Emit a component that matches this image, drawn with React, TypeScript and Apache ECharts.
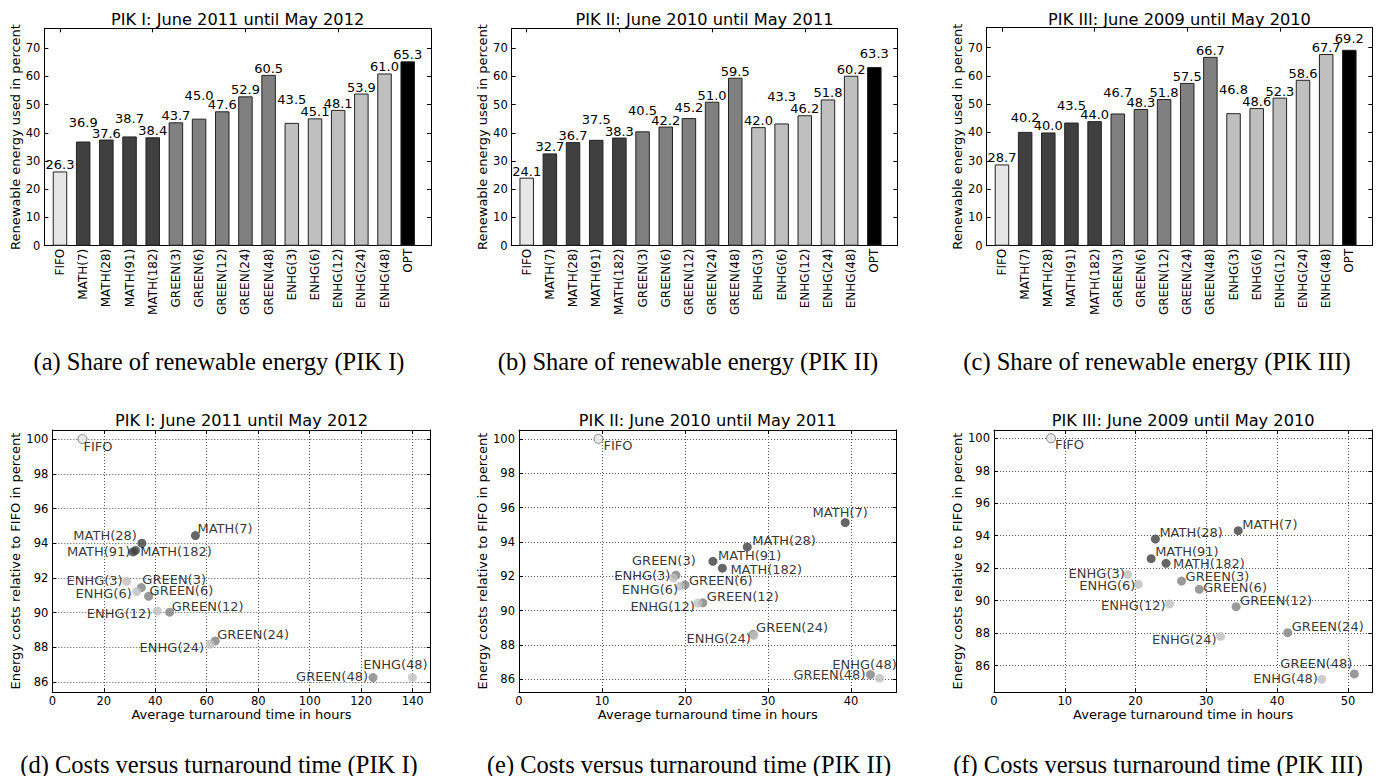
import React, { useEffect, useRef } from 'react';
import * as echarts from 'echarts';

// ---------- data ----------
const categories = ['FIFO', 'MATH(7)', 'MATH(28)', 'MATH(91)', 'MATH(182)', 'GREEN(3)', 'GREEN(6)', 'GREEN(12)', 'GREEN(24)', 'GREEN(48)', 'ENHG(3)', 'ENHG(6)', 'ENHG(12)', 'ENHG(24)', 'ENHG(48)', 'OPT'];

const shareA = [26.3, 36.9, 37.6, 38.7, 38.4, 43.7, 45.0, 47.6, 52.9, 60.5, 43.5, 45.1, 48.1, 53.9, 61.0, 65.3];
const shareB = [24.1, 32.7, 36.7, 37.5, 38.3, 40.5, 42.2, 45.2, 51.0, 59.5, 42.0, 43.3, 46.2, 51.8, 60.2, 63.3];
const shareC = [28.7, 40.2, 40.0, 43.5, 44.0, 46.7, 48.3, 51.8, 57.5, 66.7, 46.8, 48.6, 52.3, 58.6, 67.7, 69.2];

const scatterNames = ['FIFO', 'MATH(7)', 'MATH(28)', 'MATH(91)', 'MATH(182)', 'GREEN(3)', 'GREEN(6)', 'GREEN(12)', 'GREEN(24)', 'GREEN(48)', 'ENHG(3)', 'ENHG(6)', 'ENHG(12)', 'ENHG(24)', 'ENHG(48)'];

const turnaroundD = [11.7, 55.6, 34.8, 32.3, 31.4, 34.6, 37.4, 45.6, 63.3, 124.6, 28.9, 32.8, 40.8, 61.3, 139.9];
const costsD = [100.0, 94.44, 94.0, 93.59, 93.5, 91.45, 90.95, 90.03, 88.38, 86.27, 91.81, 91.22, 90.1, 88.19, 86.27];

const turnaroundE = [9.57, 39.3, 27.5, 23.36, 24.5, 18.9, 20.0, 22.15, 28.2, 42.34, 18.6, 19.4, 21.55, 28.3, 43.43];
const costsE = [100.0, 95.13, 93.71, 92.87, 92.47, 92.06, 91.5, 90.45, 88.62, 86.27, 91.9, 91.42, 90.43, 88.55, 86.06];

const turnaroundF = [8.05, 34.5, 22.8, 22.2, 24.3, 26.5, 29.0, 34.2, 41.5, 50.9, 18.9, 20.4, 24.8, 32.0, 46.3];
const costsF = [100.0, 94.31, 93.8, 92.59, 92.3, 91.21, 90.7, 89.63, 88.03, 85.49, 91.62, 91.01, 89.8, 87.8, 85.16];

// ---------- label placement (layout only) ----------
const raiseA = [0, 13, 0, 11, 0, 0, 17, 0, 0, 0, 17, 0, 0, 0, 0, 0];
const raiseB = [0, 0, 0, 14, 0, 14, 0, 4, 0, 0, 0, 20, 0, 0, 0, 7];
const raiseC = [0, 8, 0, 11, 0, 14, 0, 0, 0, 0, 17, 0, 0, 0, 0, 5];

type Place = [string, number, number];
const placeD: Place[] = [['r', 1, 7], ['r', 2, -7], ['l', 5, -8], ['l', 5, 1], ['r', 7, 0], ['r', 1, -8], ['r', 1, -6], ['r', 2, -6], ['r', 2, -6], ['l', 5, -1], ['l', 4, -1], ['l', 5, 2], ['l', 6, 2], ['l', 6, 3], ['c', -17, -13]];
const placeE: Place[] = [['r', 5, 7], ['c', -5, -10], ['r', 5, -6], ['r', 5, -6], ['r', 8, 1], ['c', -12, -15], ['r', 4, -4], ['r', 4, -6], ['r', 3, -7], ['l', 5, 0], ['l', 3, -2], ['l', 2, 3], ['l', 3, 3], ['l', 3, 3], ['c', -15, -14]];
const placeF: Place[] = [['r', 4, 6], ['r', 4, -6], ['r', 4, -6], ['r', 4, -7], ['r', 7, 0], ['r', 4, -5], ['r', 4, -2], ['r', 4, -6], ['r', 4, -6], ['c', -38, -10], ['l', 3, -1], ['l', 3, 1], ['l', 4, 2], ['l', 4, 3], ['l', 4, -1]];

// ---------- styles ----------
const SANS = "'DejaVu Sans', 'Bitstream Vera Sans', sans-serif";
const SERIF = "'Liberation Serif', 'Times New Roman', serif";
const groupColor = (name: string) => {
  if (name === 'FIFO') return '#e6e6e6';
  if (name === 'OPT') return '#000000';
  if (name.startsWith('MATH')) return '#404040';
  if (name.startsWith('GREEN')) return '#808080';
  return '#bfbfbf';
};

const barPanels = [
  { title: 'PIK I: June 2011 until May 2012', values: shareA, raise: raiseA, frame: [44.3, 28.3, 386.7, 217.4], bars: [48.4, 370.9], caption: '(a) Share of renewable energy (PIK I)', capX: 219 },
  { title: 'PIK II: June 2010 until May 2011', values: shareB, raise: raiseB, frame: [511.7, 28.3, 385.6, 217.4], bars: [515.1, 370.8], caption: '(b) Share of renewable energy (PIK II)', capX: 688 },
  { title: 'PIK III: June 2009 until May 2010', values: shareC, raise: raiseC, frame: [986.7, 27.7, 385.6, 218], bars: [990.4, 370.5], caption: '(c) Share of renewable energy (PIK III)', capX: 1157 },
];

const scatterPanels = [
  { title: 'PIK I: June 2011 until May 2012', xs: turnaroundD, ys: costsD, place: placeD, frame: [52.3, 430, 378.4, 262.3], xMax: 147, xStep: 20, yMin: 85.42, yMax: 100.52, caption: '(d) Costs versus turnaround time (PIK I)', capX: 219 },
  { title: 'PIK II: June 2010 until May 2011', xs: turnaroundE, ys: costsE, place: placeE, frame: [519, 430, 377.7, 262.3], xMax: 45.5, xStep: 10, yMin: 85.24, yMax: 100.52, caption: '(e) Costs versus turnaround time (PIK II)', capX: 689 },
  { title: 'PIK III: June 2009 until May 2010', xs: turnaroundF, ys: costsF, place: placeF, frame: [994, 430, 378.3, 262.3], xMax: 53.44, xStep: 10, yMin: 84.36, yMax: 100.51, caption: '(f) Costs versus turnaround time (PIK III)', capX: 1158 },
];

function buildOption() {
  const grid: any[] = [];
  const xAxis: any[] = [];
  const yAxis: any[] = [];
  const series: any[] = [];
  const graphic: any[] = [];

  const line = { show: true, onZero: false, lineStyle: { color: '#000', width: 1 } };
  const noLine = { show: false, onZero: false };
  const tick = { show: true, inside: true, length: 4, lineStyle: { color: '#000', width: 1 } };
  const tickLabel = { color: '#000', fontFamily: SANS, fontSize: 11.5 };
  const dotted = { show: true, lineStyle: { color: '#555', width: 1, type: [1, 2] } };

  const text = (x: number, y: number, t: string, size: number, family: string) => ({
    type: 'text', x, y, silent: true,
    style: { text: t, fontSize: size, fontFamily: family, fill: '#000', align: 'center', verticalAlign: 'middle' },
  });

  barPanels.forEach((p) => {
    const [fl, ft, fw, fh] = p.frame;
    const gFrame = grid.length;
    grid.push({ left: fl, top: ft, width: fw, height: fh, containLabel: false, outerBoundsMode: 'none' });
    const frameX = { gridIndex: gFrame, type: 'value', min: 0, max: 1, axisLine: line, axisTick: { show: false }, axisLabel: { show: false }, splitLine: { show: false } };
    xAxis.push({ ...frameX, position: 'bottom' });
    xAxis.push({ ...frameX, position: 'top' });
    const frameY = { gridIndex: gFrame, type: 'value', min: 0, max: 77, interval: 10, axisLine: line, axisTick: tick, splitLine: { show: false } };
    yAxis.push({
      ...frameY, position: 'left',
      name: 'Renewable energy used in percent', nameLocation: 'middle', nameGap: 21,
      nameTextStyle: { color: '#000', fontFamily: SANS, fontSize: 13 },
      axisLabel: { ...tickLabel, margin: 4, formatter: (v: number) => (v % 10 === 0 ? String(v) : '') },
    });
    yAxis.push({ ...frameY, position: 'right', axisLabel: { show: false } });

    const gBars = grid.length;
    grid.push({ left: p.bars[0], top: ft, width: p.bars[1], height: fh, containLabel: false, outerBoundsMode: 'none' });
    const xi = xAxis.length;
    xAxis.push({
      gridIndex: gBars, type: 'category', data: categories, position: 'bottom',
      axisLine: noLine, axisTick: { ...tick, alignWithLabel: true },
      axisLabel: { ...tickLabel, fontSize: 12, rotate: 90, interval: 0, margin: 3 },
      splitLine: { show: false },
    });
    xAxis.push({
      gridIndex: gBars, type: 'category', data: categories, position: 'top',
      axisLine: noLine, axisTick: { ...tick, alignWithLabel: true }, axisLabel: { show: false }, splitLine: { show: false },
    });
    const yi = yAxis.length;
    yAxis.push({ gridIndex: gBars, type: 'value', min: 0, max: 77, show: false });
    series.push({
      type: 'bar', xAxisIndex: xi, yAxisIndex: yi, barWidth: 14.5, silent: true,
      label: {
        show: true, position: 'top', distance: 0, color: '#000', fontFamily: SANS, fontSize: 13,
        formatter: (d: any) => Number(d.value).toFixed(1),
      },
      data: p.values.map((v, i) => ({
        value: v,
        itemStyle: { color: groupColor(categories[i]), borderColor: '#222', borderWidth: 1 },
        label: { offset: [0, -p.raise[i]] },
      })),
    });
    graphic.push(text(fl + fw / 2, 19, p.title, 16.2, SANS));
    graphic.push(text(p.capX, 361.5, p.caption, 24.5, SERIF));
  });

  scatterPanels.forEach((p) => {
    const [fl, ft, fw, fh] = p.frame;
    const g = grid.length;
    grid.push({ left: fl, top: ft, width: fw, height: fh, containLabel: false, outerBoundsMode: 'none' });
    const step = p.xStep;
    const baseX = { gridIndex: g, type: 'value', min: 0, max: p.xMax, interval: step, axisLine: line, axisTick: tick };
    const xi = xAxis.length;
    xAxis.push({
      ...baseX, position: 'bottom',
      name: 'Average turnaround time in hours', nameLocation: 'middle', nameGap: 14,
      nameTextStyle: { color: '#000', fontFamily: SANS, fontSize: 13 },
      axisLabel: { ...tickLabel, margin: 3, formatter: (v: number) => (Math.abs(v / step - Math.round(v / step)) < 1e-6 ? String(v) : '') },
      splitLine: dotted,
    });
    xAxis.push({ ...baseX, position: 'top', axisLabel: { show: false }, splitLine: { show: false } });
    const baseY = { gridIndex: g, type: 'value', min: p.yMin, max: p.yMax, splitNumber: 7, minInterval: 2, maxInterval: 2, axisLine: line, axisTick: tick };
    const evenLabel = (v: number) => {
      const r = Math.round(v);
      return Math.abs(v - r) < 1e-6 && r % 2 === 0 ? String(r) : '';
    };
    const yi = yAxis.length;
    yAxis.push({
      ...baseY, position: 'left',
      name: 'Energy costs relative to FIFO in percent', nameLocation: 'middle', nameGap: 29.5,
      nameTextStyle: { color: '#000', fontFamily: SANS, fontSize: 13 },
      axisLabel: { ...tickLabel, margin: 4, formatter: evenLabel },
      splitLine: dotted,
    });
    yAxis.push({ ...baseY, position: 'right', axisLabel: { show: false }, splitLine: { show: false } });

    series.push({
      type: 'scatter', xAxisIndex: xi, yAxisIndex: yi, symbolSize: 9, silent: true,
      label: { show: true, formatter: '{b}', color: '#000', fontFamily: SANS, fontSize: 13 },
      data: scatterNames.map((n, i) => {
        const [pos, dx, dy] = p.place[i];
        const align = pos === 'r' ? 'left' : pos === 'l' ? 'right' : 'center';
        const ox = pos === 'l' ? -dx : dx;
        return {
          name: n,
          value: [p.xs[i], p.ys[i]],
          itemStyle: n === 'FIFO'
            ? { color: groupColor(n), borderColor: '#666', borderWidth: 1 }
            : { color: groupColor(n) },
          label: { position: 'inside', align, verticalAlign: 'middle', offset: [ox, dy] },
        };
      }),
    });
    graphic.push(text(fl + fw / 2, 420.5, p.title, 16.2, SANS));
    graphic.push(text(p.capX, 764, p.caption, 24.5, SERIF));
  });

  return {
    animation: false,
    backgroundColor: '#ffffff',
    textStyle: { fontFamily: SANS },
    grid, xAxis, yAxis, series, graphic,
  };
}

export default function App() {
  const ref = useRef<HTMLDivElement>(null);
  useEffect(() => {
    if (!ref.current) return;
    const chart = echarts.init(ref.current, null, { renderer: 'svg' });
    chart.setOption(buildOption() as any);
    return () => chart.dispose();
  }, []);
  return (
    <div
      ref={ref}
      style={{ position: 'absolute', left: 0, top: 0, width: 1380, height: 776, background: '#fff' }}
    />
  );
}
